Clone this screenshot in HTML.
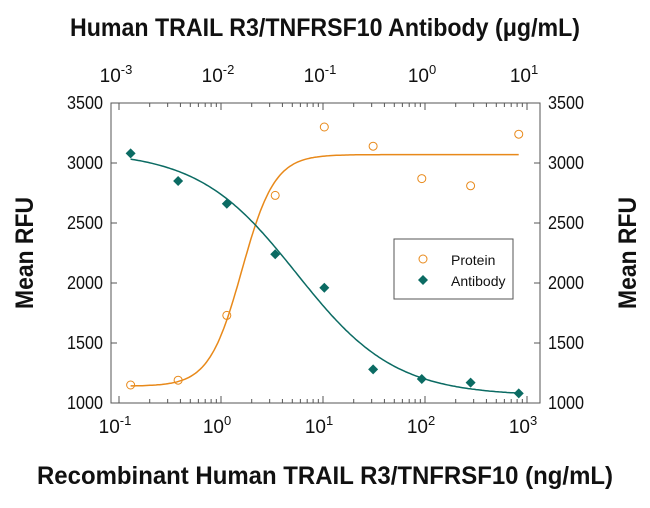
<!DOCTYPE html>
<html><head><meta charset="utf-8"><style>
body{margin:0;background:#fff;}
svg text{font-family:"Liberation Sans Narrow","Liberation Sans",sans-serif;fill:#111;}
</style></head><body>
<svg id="c" width="650" height="503" xmlns="http://www.w3.org/2000/svg"></svg>
<script>
const concentrations=[0.13,0.38,1.14,3.4,10.3,31,93,280,830];
const proteinValues=[1150,1190,1730,2730,3300,3140,2870,2810,3240];
const antibodyValues=[3080,2850,2660,2240,1960,1280,1200,1170,1080];
const proteinFit=[1140,3070,1.6,2.7];
const antibodyFit=[1060,3100,5.5,0.9];
const yTicks=[1000,1500,2000,2500,3000,3500];
const bottomExps=[-1,0,1,2,3];
const topExps=[-3,-2,-1,0,1];
const NS="http://www.w3.org/2000/svg";
const svg=document.getElementById('c');
const L=111,R=540,T=103,B=403;
const xs=v=>119+(Math.log10(v)+1)*102;
const ys=v=>B-(v-1000)*0.12;
function mk(tag,attrs,parent){const e=document.createElementNS(NS,tag);for(const k in attrs)e.setAttribute(k,attrs[k]);(parent||svg).appendChild(e);return e;}
function txt(s,x,y,size,anchor,extra){const t=mk('text',Object.assign({x:x,y:y,'font-size':size,'text-anchor':anchor||'middle'},extra||{}));t.textContent=s;return t;}
let fr=mk('rect',{x:L,y:T,width:R-L,height:B-T,fill:'none',stroke:'#555','stroke-width':1});


yTicks.forEach(v=>{const y=ys(v);
mk('line',{x1:L,x2:L+6,y1:y,y2:y,stroke:'#555'});mk('line',{x1:R-6,x2:R,y1:y,y2:y,stroke:'#555'});
let a=txt(String(v),L-8,y+6,18,'end',{textLength:36,lengthAdjust:'spacingAndGlyphs'});
let b=txt(String(v),R+8,y+6,18,'start',{textLength:36,lengthAdjust:'spacingAndGlyphs'});});
for(let e=-1;e<3;e++){for(let m=1;m<10;m++){const x=xs(m*Math.pow(10,e));const len=m==1?7:4;
mk('line',{x1:x,x2:x,y1:B,y2:B-len,stroke:'#555'});mk('line',{x1:x,x2:x,y1:T,y2:T+len,stroke:'#555'});}}
mk('line',{x1:xs(1000),x2:xs(1000),y1:B,y2:B-7,stroke:'#555'});mk('line',{x1:xs(1000),x2:xs(1000),y1:T,y2:T+7,stroke:'#555'});
bottomExps.forEach(e=>{const x=xs(Math.pow(10,e));const t=txt('',x-4,433,19,'middle');

t.innerHTML='10<tspan dy="-8" font-size="13">'+e+'</tspan>';});
topExps.forEach((e,i)=>{const x=xs(Math.pow(10,bottomExps[i]));const t=txt('',x-3,82,19,'middle');

t.innerHTML='10<tspan dy="-8" font-size="13">'+e+'</tspan>';});
function fourPL(p,x){return p[0]+(p[1]-p[0])/(1+Math.pow(x/p[2],-p[3]));}
function curve(p,col,name,dec){let d='';for(let i=0;i<=200;i++){const lx=Math.log10(concentrations[0])+(Math.log10(concentrations[concentrations.length-1])-Math.log10(concentrations[0]))*i/200;const x=Math.pow(10,lx);
const v=dec?p[0]+(p[1]-p[0])/(1+Math.pow(x/p[2],p[3])):fourPL(p,x);d+=(i?'L':'M')+xs(x).toFixed(1)+','+ys(v).toFixed(1);}
const c=mk('path',{d:d,fill:'none',stroke:col,'stroke-width':1.5});}
curve(proteinFit,'#e8891a','protein-fit-curve',false);
curve(antibodyFit,'#0b6b63','antibody-fit-curve',true);
proteinValues.forEach((v,i)=>{const c=mk('circle',{cx:xs(concentrations[i]),cy:ys(v),r:4,fill:'none',stroke:'#e8891a','stroke-width':1});
});
antibodyValues.forEach((v,i)=>{const x=xs(concentrations[i]),y=ys(v);const c=mk('path',{d:`M${x},${y-5}L${x+5},${y}L${x},${y+5}L${x-5},${y}Z`,fill:'#0b6b63'});
});
const lg=mk('g',{});
mk('rect',{x:394,y:239,width:119,height:60,fill:'#fff',stroke:'#555'},lg);
mk('circle',{cx:423,cy:259,r:4,fill:'none',stroke:'#e8891a'},lg);
mk('path',{d:'M423,275L428,280L423,285L418,280Z',fill:'#0b6b63'},lg);
let t1=mk('text',{x:451,y:265,'font-size':14},lg);t1.textContent='Protein';
let t2=mk('text',{x:451,y:286,'font-size':14},lg);t2.textContent='Antibody';
let tt=txt('Human TRAIL R3/TNFRSF10 Antibody (\u03bcg/mL)',325,36,25,'middle',{'font-weight':'bold',textLength:510,lengthAdjust:'spacingAndGlyphs'});

let bt=txt('Recombinant Human TRAIL R3/TNFRSF10 (ng/mL)',325,484,25,'middle',{'font-weight':'bold',textLength:576,lengthAdjust:'spacingAndGlyphs'});

let yl=txt('Mean RFU',0,0,25,'middle',{'font-weight':'bold',transform:'translate(33,253) rotate(-90)',textLength:112,lengthAdjust:'spacingAndGlyphs'});

let yr=txt('Mean RFU',0,0,25,'middle',{'font-weight':'bold',transform:'translate(636,253) rotate(-90)',textLength:112,lengthAdjust:'spacingAndGlyphs'});

</script>
</body></html>
